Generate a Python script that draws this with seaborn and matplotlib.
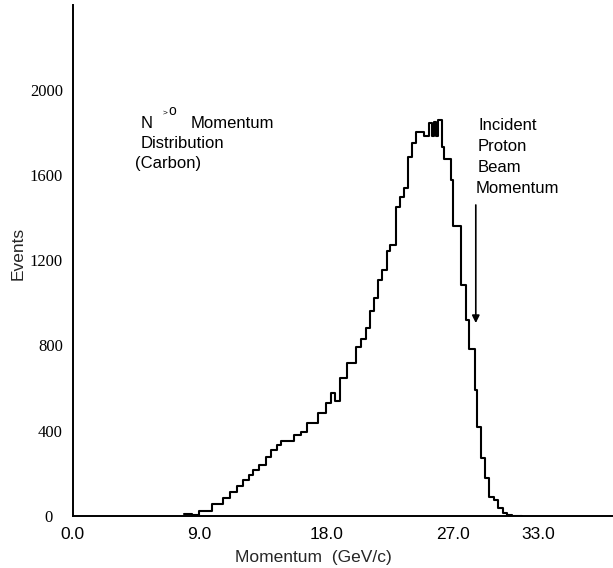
import numpy as np
import pandas as pd
import matplotlib
matplotlib.use("Agg")
import matplotlib.pyplot as plt
import matplotlib.transforms as mtransforms
import seaborn as sns

# Momentum bin edges (GeV/c) and event counts per bin
bin_edges = [7.9, 8.5, 9.0, 9.9, 10.7, 11.2, 11.7, 12.1, 12.5, 12.8,
             13.2, 13.7, 14.1, 14.5, 14.8, 15.7, 16.2, 16.6, 17.4, 18.0,
             18.35, 18.65, 18.95, 19.5, 20.1, 20.45, 20.8, 21.1, 21.4, 21.65,
             21.95, 22.3, 22.5, 22.95, 23.2, 23.5, 23.8, 24.1, 24.35, 24.95,
             25.3, 25.5, 25.65, 25.8, 25.95, 26.2, 26.35, 26.85, 27.0, 27.55,
             27.9, 28.15, 28.55, 28.7, 28.95, 29.25, 29.55, 29.9, 30.2, 30.5,
             30.8, 31.2, 31.9]
events = [8, 5, 25, 55, 83, 111, 141, 169, 192, 216,
          239, 278, 310, 331, 352, 378, 395, 438, 482, 528,
          577, 538, 646, 719, 794, 829, 880, 961, 1021, 1107,
          1154, 1244, 1271, 1451, 1498, 1537, 1685, 1748, 1802, 1782,
          1845, 1782, 1850, 1782, 1857, 1732, 1676, 1576, 1362, 1085,
          919, 784, 591, 419, 271, 177, 91, 75, 36, 15,
          5, 2]

x_ticks = [0.0, 9.0, 18.0, 27.0, 33.0]
x_tick_labels = ["0.0", "9.0", "18.0", "27.0", "33.0"]
y_ticks = [0, 400, 800, 1200, 1600, 2000]
beam_momentum = 28.6

sns.set_style("white")
plt.rcParams["font.family"] = ["Liberation Sans", "DejaVu Sans"]

edges = np.array(bin_edges)
df = pd.DataFrame({"momentum": (edges[:-1] + edges[1:]) / 2, "events": events})

fig = plt.figure(figsize=(6.13, 5.68), dpi=100)
ax = fig.add_axes([72.5 / 613, 1 - 516 / 568, (613 - 72.5) / 613, 511 / 568])

sns.histplot(data=df, x="momentum", weights="events", bins=list(bin_edges),
             element="step", fill=False, color="black", linewidth=1.5, ax=ax)

ax.set_xlim(0, 38.33)
ax.set_ylim(0, 2397)

for side in ("top", "right"):
    ax.spines[side].set_visible(False)
for side in ("left", "bottom"):
    ax.spines[side].set_linewidth(1.4)
    ax.spines[side].set_color("black")

ax.set_xticks(x_ticks)
ax.set_xticklabels(x_tick_labels)
ax.set_yticks(y_ticks)
ax.set_yticklabels([str(v) for v in y_ticks])
ax.tick_params(axis="x", direction="in", length=8.6, width=1.2, pad=8,
               labelsize=12.5, colors="black")
ax.tick_params(axis="y", direction="in", length=8.6, width=1.2, pad=7,
               labelsize=12, colors="black")
for lab in ax.get_yticklabels():
    lab.set_family(["Liberation Serif", "DejaVu Serif"])
# the zero label sits a little further out from the axis
zero_lab = ax.get_yticklabels()[0]
zero_lab.set_transform(zero_lab.get_transform()
                       + mtransforms.ScaledTranslation(-10 / 100, 0, fig.dpi_scale_trans))

ax.set_xlabel("Momentum  (GeV/c)", fontsize=12.5)
ax.set_ylabel("Events", fontsize=12.5)
ax.xaxis.set_label_coords(0.445, -0.067)
ax.yaxis.set_label_coords(-0.086, 0.513)

# Annotation on the upper left
txt = dict(fontsize=12, color="black", va="center", ha="left")
ax.text(4.86, 1843, "N", **txt)
ax.text(6.42, 1890, ">", fontsize=6, color="black", va="center", ha="left")
ax.text(6.77, 1900, "o", fontsize=10, color="black", va="center", ha="left")
ax.text(8.38, 1843, "Momentum", **txt)
ax.text(4.86, 1748, "Distribution", **txt)
ax.text(4.43, 1654, "(Carbon)", **txt)

# Beam momentum marker
for i, line in enumerate(["Incident", "Proton", "Beam", "Momentum"]):
    ax.text(28.76 if i < 3 else 28.6, 1834 - i * 100, line, **txt)
ax.annotate("", xy=(beam_momentum, 905), xytext=(beam_momentum, 1459),
            arrowprops=dict(arrowstyle="-|>", color="black", lw=1.2,
                            mutation_scale=11, shrinkA=0, shrinkB=0))

fig.savefig("out.png", dpi=100, facecolor="white")
